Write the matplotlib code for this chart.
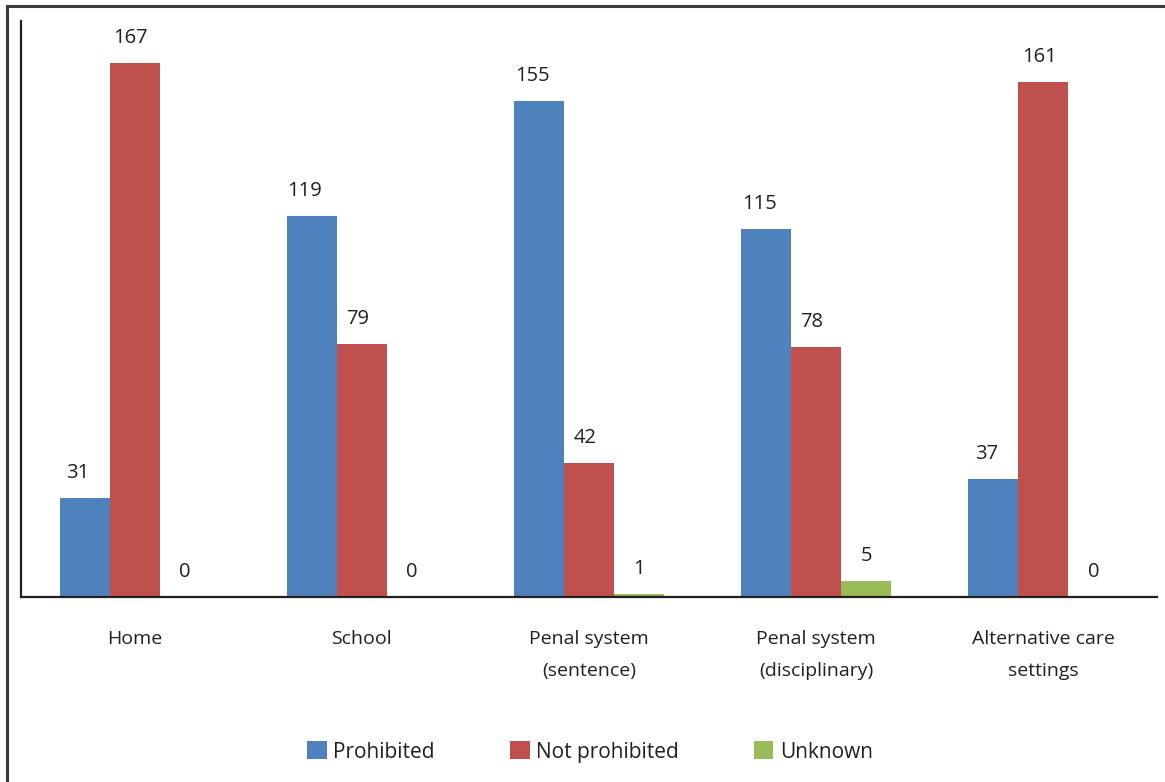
#!/usr/bin/env python3
import matplotlib

matplotlib.use("Agg")
import matplotlib.pyplot as plt
import numpy as np
from matplotlib.patches import Rectangle

categories = [
    "Home",
    "School",
    "Penal system\n(sentence)",
    "Penal system\n(disciplinary)",
    "Alternative care\nsettings",
]
prohibited = [31, 119, 155, 115, 37]
not_prohibited = [167, 79, 42, 78, 161]
unknown = [0, 0, 1, 5, 0]

series = [
    ("Prohibited", prohibited, "#4F81BD"),
    ("Not prohibited", not_prohibited, "#C0504D"),
    ("Unknown", unknown, "#9BBB59"),
]

plt.rcParams["font.family"] = ["Open Sans", "DejaVu Sans"]
TEXT = "#231f20"

W, H = 1165, 782
fig = plt.figure(figsize=(W / 100, H / 100), dpi=100)
ax = fig.add_axes([21 / W, 1 - 597 / H, (1157 - 21) / W, (597 - 21) / H])

# outer frame, cropped on the right and bottom like the source
fig.patches.append(Rectangle((7 / W, -0.05), 1.1, 1 - 6 / H + 0.05,
                             transform=fig.transFigure, fill=False,
                             edgecolor="#3a3a3a", linewidth=2.2))

x = np.arange(len(categories))
width = 0.22
label_shift = [-5, -3, 0]
for i, (label, values, color) in enumerate(series):
    pos = x + (i - 1) * width
    ax.bar(pos, values, width, color=color, label=label, zorder=2)
    for xp, v in zip(pos, values):
        ax.annotate(str(v), (xp, v), xytext=(label_shift[i], 18),
                    textcoords="offset points", ha="center", va="center",
                    fontsize=14.5, color=TEXT)

ax.set_xlim(-0.5, len(categories) - 0.5)
ax.set_ylim(0, 180)
ax.set_xticks(x)
ax.set_xticklabels(categories, fontsize=14, color=TEXT, linespacing=1.95)
ax.tick_params(axis="x", length=0, pad=24)
ax.set_yticks([])
for side in ["top", "right"]:
    ax.spines[side].set_visible(False)
for side in ["left", "bottom"]:
    ax.spines[side].set_color(TEXT)
    ax.spines[side].set_linewidth(1.6)

fig.legend(loc="center", bbox_to_anchor=(590 / W, 1 - 752 / H), ncol=3,
           frameon=False, fontsize=15, handlelength=0.95, handleheight=0.95,
           handletextpad=0.3, columnspacing=3.6, labelcolor=TEXT)

fig.savefig("out.png", dpi=100)
